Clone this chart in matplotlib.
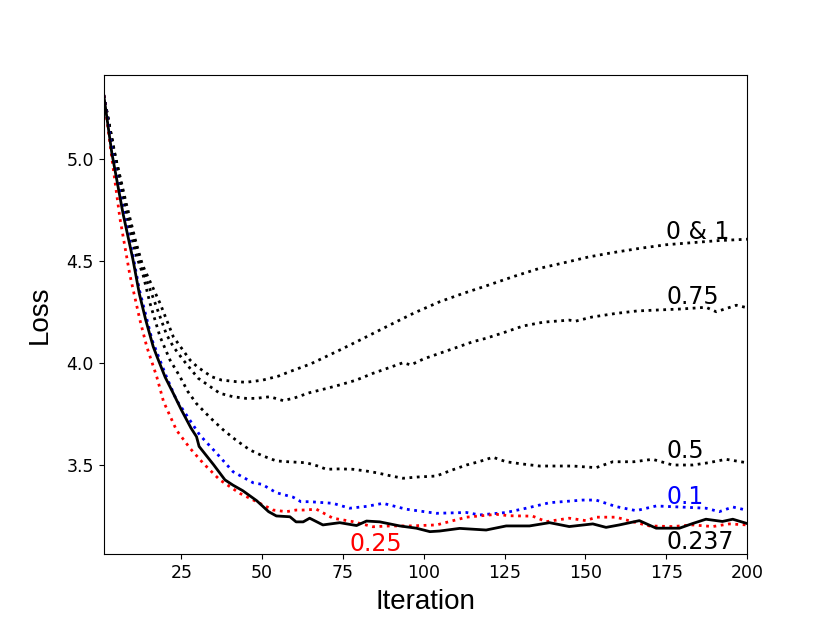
import matplotlib
matplotlib.use("Agg")
import matplotlib.pyplot as plt

# ---- data ----
it_01 = [1, 4.5, 8, 11, 13, 18.4, 22.5, 27.7, 30, 34.4, 37.4, 42, 45, 50, 55, 58.5, 65, 74, 80, 89.5,
         97, 104.9, 112, 119.3, 128, 135.8, 143, 151, 158, 166.7, 175, 183, 191, 200]
loss_01 = [5.314, 5.02, 4.78, 4.59, 4.48, 4.293, 4.129, 4.014, 3.98, 3.932, 3.916, 3.908, 3.905, 3.915,
           3.935, 3.957, 3.995, 4.063, 4.11, 4.186, 4.245, 4.30, 4.34, 4.378, 4.425, 4.464, 4.49, 4.52,
           4.54, 4.562, 4.58, 4.59, 4.60, 4.607]

it_075 = [1, 4.5, 8, 11, 13, 16.9, 20.4, 22.5, 25.6, 30.2, 36.9, 41, 45, 48, 52.4, 56.5, 60, 64.7, 70,
          74, 79, 84.3, 89, 93.6, 96, 100, 104.9, 110, 115.2, 119.3, 125, 130.7, 137, 141, 145, 147,
          152, 159.5, 166, 172.9, 180, 187.3, 190.5, 196.7, 200]
loss_075 = [5.314, 5.02, 4.76, 4.57, 4.46, 4.293, 4.14, 4.08, 4.014, 3.925, 3.851, 3.834, 3.826, 3.826,
            3.834, 3.815, 3.828, 3.854, 3.875, 3.892, 3.915, 3.949, 3.975, 4.001, 3.99, 4.02, 4.047,
            4.075, 4.104, 4.121, 4.15, 4.181, 4.20, 4.205, 4.21, 4.205, 4.225, 4.243, 4.255, 4.26,
            4.265, 4.273, 4.251, 4.283, 4.271]

it_05 = [1, 4.3, 8, 11, 13.2, 15.3, 18.4, 21.5, 24.6, 27, 29.7, 34, 38, 42, 46.2, 50, 54.4, 58, 63.7,
         67, 69.9, 74, 78.1, 82, 85.4, 90, 93.6, 98, 103.9, 108, 113.2, 117, 121.4, 125.5, 130, 135.8,
         146.1, 153.3, 158.5, 165, 170.8, 177, 183.2, 188, 193.5, 200]
loss_05 = [5.314, 5.03, 4.72, 4.53, 4.43, 4.293, 4.129, 4.014, 3.932, 3.86, 3.80, 3.73, 3.671, 3.62,
           3.573, 3.545, 3.519, 3.515, 3.51, 3.495, 3.478, 3.48, 3.478, 3.47, 3.461, 3.445, 3.434,
           3.44, 3.445, 3.47, 3.499, 3.515, 3.537, 3.515, 3.505, 3.494, 3.494, 3.486, 3.515, 3.515,
           3.527, 3.499, 3.499, 3.51, 3.527, 3.51]

it_01b = [1, 4, 7, 10, 12, 16, 20.4, 23.5, 26.6, 30.7, 35.9, 41, 47.2, 50, 54.4, 59.6, 62, 64.7, 71.9,
          77.1, 82.3, 87.4, 94.6, 103.9, 113.2, 117.3, 125.5, 131.7, 138.9, 149.2, 153.3, 159.5,
          165.7, 171.9, 179.1, 187.3, 191.4, 195.6, 200]
loss_01b = [5.314, 5.0, 4.75, 4.53, 4.36, 4.11, 3.932, 3.818, 3.744, 3.646, 3.557, 3.466, 3.412, 3.404,
            3.363, 3.341, 3.319, 3.319, 3.311, 3.287, 3.296, 3.311, 3.282, 3.262, 3.266, 3.254, 3.266,
            3.287, 3.314, 3.327, 3.327, 3.295, 3.275, 3.298, 3.293, 3.287, 3.27, 3.293, 3.277]

it_025 = [1, 3.3, 6, 9.1, 12.2, 14.3, 17.4, 19.5, 23.5, 27.7, 31.8, 36.9, 43.1, 48.3, 53.4, 57.5, 60.5,
          62.7, 66.8, 71.9, 78.1, 84.3, 89.5, 95.6, 104, 113.2, 122.4, 126.5, 133.7, 137.9, 145, 150.2,
          153.3, 159.5, 164.6, 169.8, 177, 183.2, 189.4, 194.5, 200]
loss_025 = [5.314, 5.03, 4.71, 4.43, 4.21, 4.08, 3.932, 3.81, 3.67, 3.581, 3.507, 3.426, 3.36, 3.319,
            3.278, 3.27, 3.278, 3.278, 3.282, 3.238, 3.221, 3.196, 3.20, 3.20, 3.205, 3.243, 3.257,
            3.25, 3.248, 3.221, 3.238, 3.226, 3.243, 3.243, 3.221, 3.20, 3.197, 3.205, 3.197, 3.21,
            3.205]

it_0237 = [1, 3.5, 7, 10, 12, 14, 16.3, 17.5, 20, 22.5, 25, 28, 29.7, 30.5, 35, 38.5, 41, 44, 48.3, 52,
           54.4, 58.6, 60.5, 62.7, 64.7, 68.8, 74, 79.2, 82.3, 86.4, 92.6, 97.7, 101.9, 104.9, 111.1,
           119.3, 125.5, 132.7, 138.9, 145, 152.3, 156.4, 160.5, 166.7, 171.9, 179.1, 183.2, 187.3,
           192.4, 195.6, 200]
loss_0237 = [5.314, 5.03, 4.73, 4.51, 4.34, 4.21, 4.08, 4.03, 3.93, 3.851, 3.77, 3.68, 3.638, 3.59,
             3.50, 3.426, 3.40, 3.373, 3.324, 3.27, 3.249, 3.245, 3.22, 3.22, 3.238, 3.205, 3.216,
             3.202, 3.224, 3.22, 3.20, 3.189, 3.172, 3.175, 3.188, 3.18, 3.20, 3.20, 3.216, 3.197,
             3.21, 3.193, 3.205, 3.226, 3.189, 3.189, 3.212, 3.233, 3.222, 3.233, 3.212]

labels = ["0 & 1", "0.75", "0.5", "0.1", "0.237", "0.25"]
label_x = [175, 175, 175, 175, 175, 77]
label_y = [4.607, 4.289, 3.532, 3.308, 3.087, 3.079]
label_colors = ["black", "black", "black", "blue", "black", "red"]

xticks = [25, 50, 75, 100, 125, 150, 175, 200]
yticks = [3.5, 4.0, 4.5, 5.0]

# ---- plot ----
fig, ax = plt.subplots(figsize=(8.3, 6.23), dpi=100)

ax.plot(it_01, loss_01, color="black", linestyle=":", linewidth=2)
ax.plot(it_075, loss_075, color="black", linestyle=":", linewidth=2)
ax.plot(it_05, loss_05, color="black", linestyle=":", linewidth=2)
ax.plot(it_01b, loss_01b, color="blue", linestyle=":", linewidth=2)
ax.plot(it_025, loss_025, color="red", linestyle=":", linewidth=2)
ax.plot(it_0237, loss_0237, color="black", linestyle="-", linewidth=2)

for t, x, y, c in zip(labels, label_x, label_y, label_colors):
    ax.text(x, y, t, color=c, fontsize=17, ha="left", va="baseline")

ax.set_xlim(1, 200)
ax.set_ylim(3.06, 5.414)
ax.set_xticks(xticks)
ax.set_yticks(yticks)
ax.tick_params(labelsize=12.5)
ax.set_xlabel("Iteration", fontsize=20, family="Liberation Sans", labelpad=5)
ax.set_ylabel("Loss", fontsize=20, family="Liberation Sans", labelpad=10)

fig.savefig("out.png", dpi=100)
